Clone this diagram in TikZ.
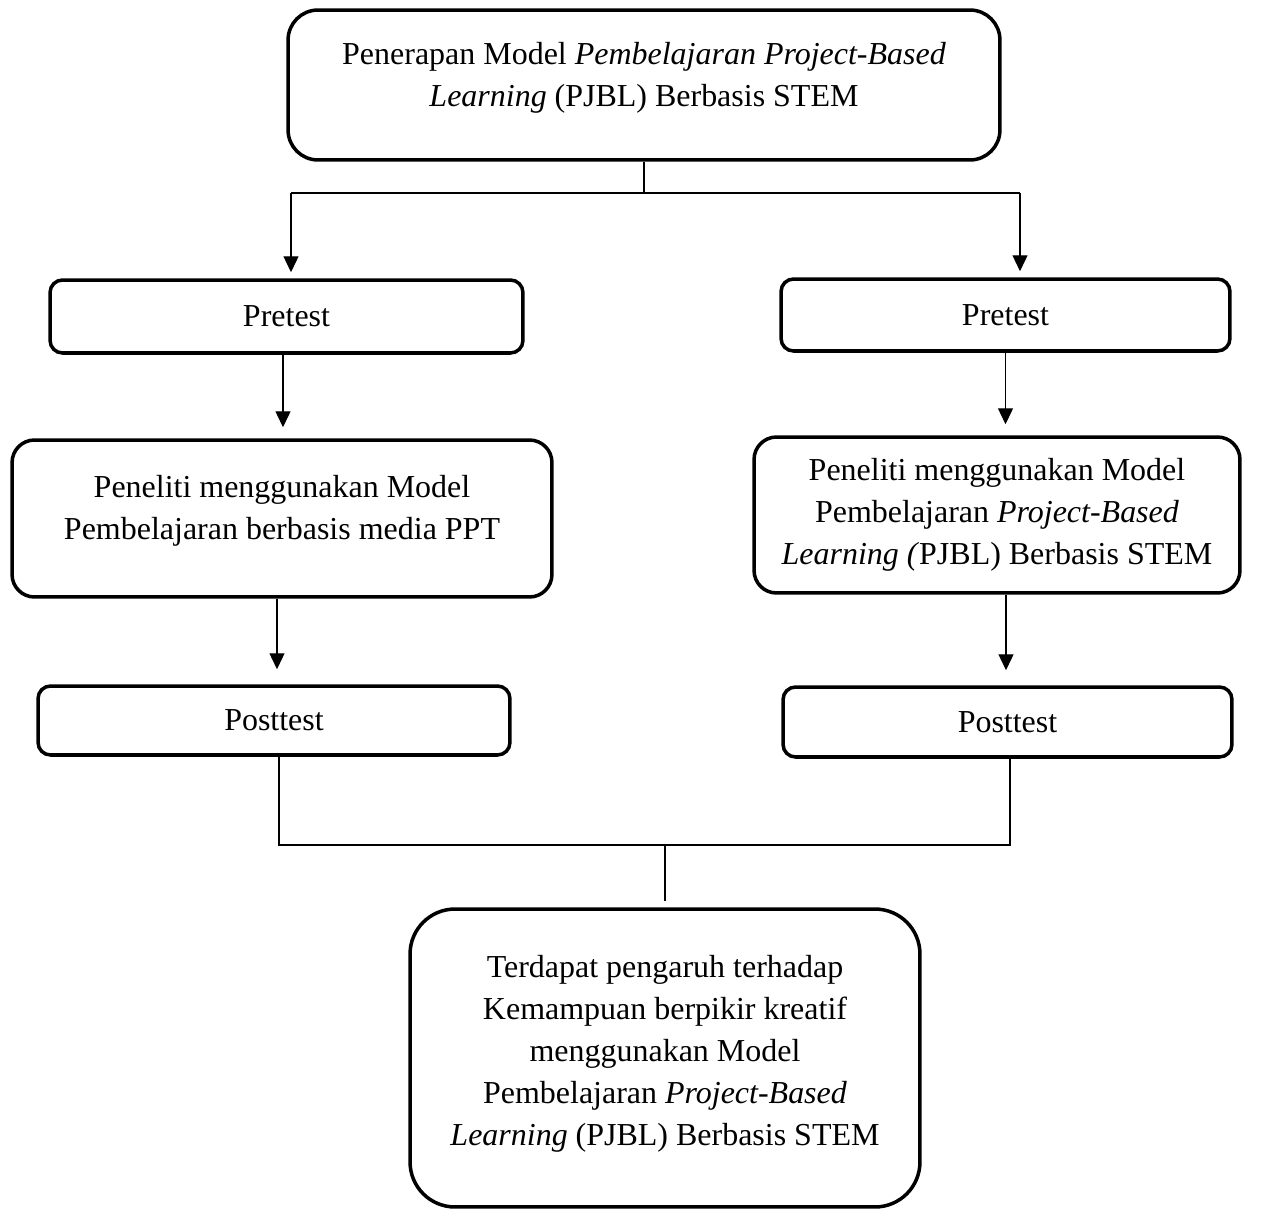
\documentclass[tikz,border=0pt]{standalone}
\usepackage{fontspec}
\setmainfont{Liberation Serif}
\usetikzlibrary{arrows.meta}
\begin{document}
\begin{tikzpicture}[x=0.02cm, y=-0.02cm, >={Triangle[length=0.32cm, width=0.3cm]},
    box/.style={draw, line width=2pt, align=center, inner sep=0pt,
        font=\fontsize{18.2pt}{23.9pt}\selectfont},
    link/.style={line width=0.75pt}]
    \useasboundingbox (0,0) rectangle (1264,1210);
    % Top box
    \node[box, rounded corners=0.6cm, minimum width=14.24cm, minimum height=3cm,
        text depth=0.42cm] (top) at (644,85)
        {Penerapan Model \textit{Pembelajaran Project-Based}\\
         \textit{Learning} (PJBL) Berbasis STEM};
    % Pretest
    \node[box, rounded corners=0.25cm, minimum width=9.46cm, minimum height=1.46cm]
        (pre1) at (286.5,316.5) {Pretest};
    \node[box, rounded corners=0.25cm, minimum width=8.98cm, minimum height=1.44cm]
        (pre2) at (1005.5,315) {Pretest};
    % Treatment
    \node[box, rounded corners=0.45cm, minimum width=10.8cm, minimum height=3.14cm,
        text depth=0.46cm] (mid1) at (282,518.5)
        {Peneliti menggunakan Model\\ Pembelajaran berbasis media PPT};
    \node[box, rounded corners=0.45cm, minimum width=9.72cm, minimum height=3.12cm]
        (mid2) at (997,515)
        {Peneliti menggunakan Model\\ Pembelajaran \textit{Project-Based}\\
         \textit{Learning (}PJBL) Berbasis STEM};
    % Posttest
    \node[box, rounded corners=0.25cm, minimum width=9.44cm, minimum height=1.38cm]
        (post1) at (274,720.5) {Posttest};
    \node[box, rounded corners=0.25cm, minimum width=8.98cm, minimum height=1.4cm]
        (post2) at (1007.5,722) {Posttest};
    % Result
    \node[box, rounded corners=0.9cm, minimum width=10.2cm, minimum height=5.96cm,
        text depth=0.32cm] (res) at (665,1058)
        {Terdapat pengaruh terhadap\\ Kemampuan berpikir kreatif\\ menggunakan Model\\
         Pembelajaran \textit{Project-Based}\\ \textit{Learning} (PJBL) Berbasis STEM};
    % Split into two groups
    \coordinate (splitL) at (291,193);
    \coordinate (splitR) at (1020,193);
    \draw[link] (top.south) -- (top.south |- splitL);
    \draw[link] (splitL) -- (splitR);
    \draw[link, ->, shorten >=0.12cm] (splitL) -- (splitL |- pre1.north);
    \draw[link, ->, shorten >=0.12cm] (splitR) -- (splitR |- pre2.north);
    % Pretest to treatment
    \draw[link, ->, shorten >=0.22cm] ([xshift=-0.07cm]pre1.south) -- ([xshift=-0.07cm]pre1.south |- mid1.north);
    \draw[link, ->, shorten >=0.22cm] (pre2.south) -- (pre2.south |- mid2.north);
    % Treatment to posttest
    \draw[link, ->, shorten >=0.3cm] ([xshift=-0.1cm]mid1.south) -- ([xshift=-0.1cm]mid1.south |- post1.north);
    \draw[link, ->, shorten >=0.3cm] ([xshift=0.18cm]mid2.south) -- ([xshift=0.18cm]mid2.south |- post2.north);
    % Join into result
    \coordinate (join) at (665,845);
    \draw[link] ([xshift=0.1cm]post1.south) -- ([xshift=0.1cm]post1.south |- join)
        -- ([xshift=0.05cm]post2.south |- join) -- ([xshift=0.05cm]post2.south);
    \draw[link, shorten >=0.12cm] (join) -- (res.north);
\end{tikzpicture}
\end{document}
